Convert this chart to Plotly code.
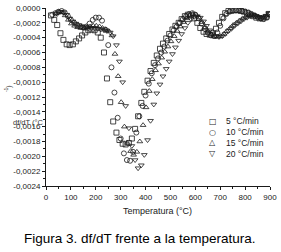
import plotly.graph_objects as go

# ---------------- data (df/dT values in units of 1e-4 per degC) ----------------
sq_T = [20, 33, 45, 58, 70, 83, 95, 108, 120, 133,
        145, 158, 170, 183, 195, 208, 220, 233, 245, 258,
        270, 283, 295, 308, 320, 333, 345, 358, 370, 383,
        395, 408, 420, 433, 445, 458, 470, 483, 495, 508,
        520, 533, 545, 558, 570, 583, 595, 608, 620, 633,
        645, 658, 670, 683, 695, 708, 720, 733, 745, 758,
        770, 783, 795, 808, 820, 833, 845, 858, 870, 883,
        895]
sq_v = [-1.0, -1.6, -2.3, -3.4, -4.3, -4.9, -5.0, -4.9, -4.5, -4.1,
        -3.7, -3.3, -3.0, -2.9, -3.0, -3.3, -4.0, -6.0, -9.5, -12.7,
        -15.3, -16.8, -17.8, -18.3, -18.4, -18.2, -17.6, -16.3, -14.6, -12.8,
        -11.3, -9.8, -8.5, -7.4, -6.4, -5.5, -4.8, -4.1, -3.5, -2.9,
        -2.4, -2.0, -1.5, -1.1, -0.9, -1.0, -1.4, -2.0, -2.7, -3.2,
        -3.5, -3.6, -3.4, -2.8, -2.0, -1.2, -0.7, -0.4, -0.3, -0.3,
        -0.3, -0.4, -0.5, -0.7, -0.9, -1.1, -1.3, -1.4, -1.4, -1.2,
        -0.8]

ci_T = [25, 38, 50, 63, 75, 88, 100, 113, 125, 138,
        150, 163, 175, 188, 200, 213, 225, 238, 250, 263,
        275, 288, 300, 313, 325, 338, 350, 363, 375, 388,
        400, 413, 425, 438, 450, 463, 475, 488, 500, 513,
        525, 538, 550, 563, 575, 588, 600, 613, 625, 638,
        650, 663, 675, 688, 700, 713, 725, 738, 750, 763,
        775, 788, 800, 813, 825, 838, 850, 863, 875, 888,
        898]
ci_v = [-0.9, -0.7, -0.5, -0.4, -0.6, -1.1, -1.6, -2.0, -2.3, -2.5,
        -2.6, -2.5, -2.1, -1.6, -1.3, -1.3, -1.7, -2.9, -5.0, -8.0,
        -11.4, -14.8, -17.6, -19.6, -20.5, -20.6, -19.4, -16.8, -14.6, -13.2,
        -11.8, -10.2, -8.8, -7.7, -6.8, -6.0, -5.2, -4.4, -3.7, -3.0,
        -2.5, -2.0, -1.5, -1.1, -0.8, -0.7, -0.9, -1.4, -2.1, -2.8,
        -3.3, -3.7, -3.8, -3.3, -2.4, -1.4, -0.8, -0.5, -0.4, -0.3,
        -0.3, -0.4, -0.5, -0.6, -0.8, -1.0, -1.2, -1.4, -1.5, -1.3,
        -0.9]

tr_T = [40, 52, 65, 77, 90, 102, 115, 127, 140, 152,
        165, 177, 190, 202, 215, 227, 240, 252, 265, 277,
        290, 302, 315, 327, 340, 352, 365, 377, 390, 402,
        415, 427, 440, 452, 465, 477, 490, 502, 515, 527,
        540, 552, 565, 577, 590, 602, 615, 627, 640, 652,
        665, 677, 690, 702, 715, 727, 740, 752, 765, 777,
        790, 802, 815, 827, 840, 852, 865, 877, 890]
tr_v = [-0.7, -0.5, -0.6, -1.0, -1.6, -2.1, -2.4, -2.6, -2.7, -2.7,
        -2.6, -2.5, -2.4, -2.4, -2.5, -2.7, -2.9, -3.1, -3.7, -6.2,
        -9.2, -12.7, -16.0, -18.2, -19.3, -19.8, -19.4, -18.0, -15.8, -13.4,
        -11.2, -9.6, -8.4, -7.5, -6.7, -5.9, -5.2, -4.5, -3.8, -3.1,
        -2.5, -1.9, -1.4, -1.0, -0.8, -0.9, -1.3, -1.9, -2.6, -3.2,
        -3.6, -3.8, -3.9, -3.8, -3.5, -3.1, -2.7, -2.3, -2.0, -1.7,
        -1.4, -1.2, -1.0, -0.9, -1.0, -1.2, -1.3, -1.2, -0.9]

dt_T = [45, 58, 70, 83, 95, 108, 120, 133, 145, 158,
        170, 183, 195, 208, 220, 233, 245, 258, 270, 283,
        295, 308, 320, 333, 345, 358, 370, 383, 395, 408,
        420, 433, 445, 458, 470, 483, 495, 508, 520, 533,
        545, 558, 570, 583, 595, 608, 620, 633, 645, 658,
        670, 683, 695, 708, 720, 733, 745, 758, 770, 783,
        795, 808, 820, 833, 845, 858, 870, 883, 895]
dt_v = [-0.8, -0.5, -0.6, -0.9, -1.4, -1.8, -2.1, -2.3, -2.5, -2.6,
        -2.7, -2.7, -2.7, -2.8, -2.9, -3.0, -3.1, -3.3, -3.8, -5.0,
        -7.2, -10.0, -13.2, -16.2, -18.6, -20.5, -21.6, -21.2, -19.8, -17.8,
        -15.2, -13.0, -11.5, -10.3, -9.2, -8.2, -7.2, -6.2, -5.3, -4.4,
        -3.5, -2.7, -2.0, -1.5, -1.2, -1.1, -1.3, -1.8, -2.4, -3.0,
        -3.5, -3.8, -3.9, -3.8, -3.5, -3.1, -2.8, -2.4, -2.1, -1.8,
        -1.5, -1.3, -1.1, -1.0, -1.1, -1.3, -1.3, -1.1, -0.7]

series_names = ["5 °C/min", "10 °C/min", "15 °C/min", "20 °C/min"]
legend_glyphs = ["□", "○", "△", "▽"]

ytick_vals = [0, -0.0002, -0.0004, -0.0006, -0.0008, -0.0010, -0.0012,
              -0.0014, -0.0016, -0.0018, -0.0020, -0.0022, -0.0024]
ytick_text = ["0,0000", "-0,0002", "-0,0004", "-0,0006", "-0,0008", "-0,0010",
              "-0,0012", "-0,0014", "-0,0016", "-0,0018", "-0,0020", "-0,0022",
              "-0,0024"]
xtick_vals = [0, 100, 200, 300, 400, 500, 600, 700, 800, 900]

SCALE = 1e-4
FONT = "Arial, Liberation Sans, sans-serif"
INK = "#1a1a1a"

fig = go.Figure()
for T, v, sym in [(sq_T, sq_v, "square-open"), (ci_T, ci_v, "circle-open"),
                  (tr_T, tr_v, "triangle-up-open"), (dt_T, dt_v, "triangle-down-open")]:
    fig.add_trace(go.Scatter(
        x=T, y=[val * SCALE for val in v], mode="markers", showlegend=False,
        marker=dict(symbol=sym, size=5, color=INK, line=dict(width=0.8, color=INK)),
    ))

# plot area in pixels: x 45.5..273, y 4..186.5
W, H = 281, 252
L, R, T_, B = 45.5, 273.0, 4.0, 186.5


def px(xp):
    return (xp - L) / (R - L)


def py(yp):
    return (B - yp) / (B - T_)


annotations = []
for i, (g, name) in enumerate(zip(legend_glyphs, series_names)):
    ypix = 120 + i * 11.2
    annotations.append(dict(x=px(215), y=py(ypix), xref="paper", yref="paper", text=g,
                            showarrow=False, xanchor="center", yanchor="middle",
                            font=dict(family="DejaVu Sans", size=8, color=INK)))
    annotations.append(dict(x=px(226), y=py(ypix), xref="paper", yref="paper", text=name,
                            showarrow=False, xanchor="left", yanchor="middle",
                            font=dict(family=FONT, size=8.5, color=INK)))

annotations.append(dict(x=px(159), y=py(212), xref="paper", yref="paper",
                        text="Temperatura (°C)", showarrow=False, xanchor="center",
                        yanchor="middle", font=dict(family=FONT, size=9, color=INK)))
annotations.append(dict(x=px(141), y=py(240), xref="paper", yref="paper",
                        text="Figura 3. df/dT frente a la temperatura.", showarrow=False,
                        xanchor="center", yanchor="middle",
                        font=dict(family=FONT, size=13.5, color="black")))
annotations.append(dict(x=px(10), y=py(121), xref="paper", yref="paper",
                        text="df/dT (°C", showarrow=False, xanchor="left",
                        yanchor="middle", font=dict(family=FONT, size=7.5, color="#333")))
annotations.append(dict(x=px(8), y=py(87), xref="paper", yref="paper",
                        text="<sup>-1</sup>)", textangle=-90, showarrow=False,
                        xanchor="center", yanchor="middle",
                        font=dict(family=FONT, size=7, color="#333")))

fig.update_layout(
    width=W, height=H,
    margin=dict(l=L, r=W - R, t=T_, b=H - B, pad=0),
    paper_bgcolor="white", plot_bgcolor="white",
    annotations=annotations,
    xaxis=dict(range=[0, 900], tickmode="array", tickvals=xtick_vals,
               ticks="outside", ticklen=3, tickwidth=1, tickcolor=INK,
               showline=True, linecolor=INK, linewidth=1, showgrid=False, zeroline=False,
               ticklabeloverflow="allow",
               tickfont=dict(family=FONT, size=8, color=INK),
               minor=dict(dtick=50, tick0=0, ticks="outside", ticklen=2, tickcolor=INK, showgrid=False)),
    yaxis=dict(range=[-0.0024, 0], tickmode="array", tickvals=ytick_vals, ticktext=ytick_text,
               ticks="outside", ticklen=3, tickwidth=1, tickcolor=INK,
               showline=True, linecolor=INK, linewidth=1, showgrid=False, zeroline=False,
               ticklabeloverflow="allow",
               tickfont=dict(family=FONT, size=8, color=INK),
               minor=dict(dtick=0.0001, tick0=0, ticks="outside", ticklen=2, tickcolor=INK, showgrid=False)),
)

fig.write_html("out.html")
